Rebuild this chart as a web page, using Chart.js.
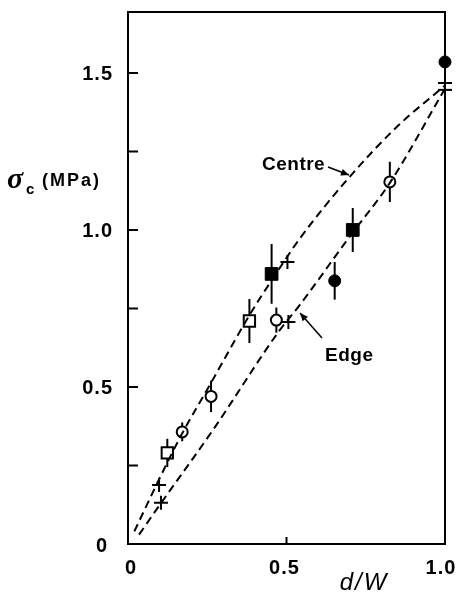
<!DOCTYPE html>
<html><head><meta charset="utf-8">
<script src="https://cdn.jsdelivr.net/npm/chart.js@4.4.0/dist/chart.umd.min.js"></script>
<style>html,body{margin:0;padding:0;background:#fff}#wrap{width:457px;height:592px;position:relative}</style>
</head><body><div id="wrap"><canvas id="c" width="457" height="592"></canvas></div>
<script>
// ---- data ----
const openCircleX = [0.171, 0.262, 0.468, 0.826];
const openCircleY = [0.357, 0.47, 0.713, 1.153];
const openCircleErr = [0.03, 0.05, 0.04, 0.064];
const filledCircleX = [0.652, 1.0];
const filledCircleY = [0.838, 1.535];
const filledCircleErr = [0.06, 0];
const openSquareX = [0.124, 0.383];
const openSquareY = [0.29, 0.71];
const openSquareErr = [0.045, 0.07];
const filledSquareX = [0.453, 0.709];
const filledSquareY = [0.86, 1.0];
const filledSquareErr = [0.095, 0.07];
const plusX = [0.098, 0.104, 0.503, 0.506];
const plusY = [0.188, 0.131, 0.898, 0.707];
const limitX = [1.0, 1.0];
const limitY = [1.468, 1.446];
const centreX = [0.02, 0.10, 0.17, 0.26, 0.39, 0.46, 0.54, 0.70, 0.85, 1.0];
const centreY = [0.04, 0.21, 0.35, 0.51, 0.74, 0.85, 0.97, 1.17, 1.33, 1.46];
const edgeX = [0.035, 0.104, 0.266, 0.478, 0.541, 0.70, 0.826, 1.0];
const edgeY = [0.03, 0.13, 0.36, 0.68, 0.76, 0.98, 1.15, 1.45];
const xTicks = [0, 0.5, 1.0];
const xTickLabels = ['0', '0.5', '1.0'];
const xInnerTicks = [0.5];
const yTicks = [0, 0.5, 1.0, 1.5];
const yTickLabels = ['0', '0.5', '1.0', '1.5'];
const yInnerTicks = [0.25, 0.5, 0.75, 1.0, 1.25, 1.5];
const curveLabels = ['Centre', 'Edge'];
const xTitle = 'd/W';
const yTitleSymbol = 'σ';
const yTitleSub = 'c';
const yTitleUnit = '(MPa)';

const pts = (xs, ys) => xs.map((x, i) => ({x: x, y: ys[i]}));
const SANS = '"Liberation Sans"';

const errorBars = {
  id: 'errorBars',
  beforeDatasetsDraw(chart) {
    const ctx = chart.ctx, xs = chart.scales.x, ys = chart.scales.y;
    ctx.save();
    ctx.strokeStyle = '#000'; ctx.lineWidth = 2;
    chart.data.datasets.forEach(ds => {
      if (!ds.err) return;
      ds.data.forEach((p, i) => {
        const e = ds.err[i]; if (!e) return;
        const px = xs.getPixelForValue(p.x);
        ctx.beginPath();
        ctx.moveTo(px, ys.getPixelForValue(p.y - e));
        ctx.lineTo(px, ys.getPixelForValue(p.y + e));
        ctx.stroke();
      });
    });
    ctx.restore();
  }
};

const frame = {
  id: 'frame',
  afterDraw(chart) {
    const ctx = chart.ctx, a = chart.chartArea, xs = chart.scales.x, ys = chart.scales.y;
    ctx.save();
    ctx.strokeStyle = '#000'; ctx.lineWidth = 2;
    ctx.strokeRect(a.left, a.top, a.right - a.left, a.bottom - a.top);
    ctx.beginPath();
    yInnerTicks.forEach(v => { const py = ys.getPixelForValue(v); ctx.moveTo(a.left, py); ctx.lineTo(a.left + 10, py); });
    xInnerTicks.forEach(v => { const px = xs.getPixelForValue(v); ctx.moveTo(px, a.bottom); ctx.lineTo(px, a.bottom - 7); });
    ctx.stroke();

    ctx.fillStyle = '#000';
    // tick labels
    ctx.font = 'bold 20px ' + SANS;
    ctx.letterSpacing = '1px';
    ctx.textBaseline = 'middle';
    ctx.textAlign = 'right';
    yTicks.forEach((v, i) => ctx.fillText(yTickLabels[i], a.left - (v === 0 ? 20 : 15), ys.getPixelForValue(v) + 2));
    ctx.textAlign = 'center';
    xTicks.forEach((v, i) => {
      const off = i === 0 ? 3 : (i === xTicks.length - 1 ? -4 : -2);
      ctx.fillText(xTickLabels[i], xs.getPixelForValue(v) + off, a.bottom + 24);
    });

    // curve labels
    ctx.font = 'bold 19px ' + SANS;
    ctx.letterSpacing = '0.5px';
    ctx.textBaseline = 'alphabetic'; ctx.textAlign = 'left';
    ctx.fillText(curveLabels[0], 262, 170);
    ctx.fillText(curveLabels[1], 325, 361);
    const arrow = (x1, y1, x2, y2) => {
      ctx.lineWidth = 1.5;
      ctx.beginPath(); ctx.moveTo(x1, y1); ctx.lineTo(x2, y2); ctx.stroke();
      const ang = Math.atan2(y2 - y1, x2 - x1), L = 8, W = 3.5;
      ctx.beginPath();
      ctx.moveTo(x2, y2);
      ctx.lineTo(x2 - L * Math.cos(ang) + W * Math.sin(ang), y2 - L * Math.sin(ang) - W * Math.cos(ang));
      ctx.lineTo(x2 - L * Math.cos(ang) - W * Math.sin(ang), y2 - L * Math.sin(ang) + W * Math.cos(ang));
      ctx.closePath(); ctx.fill();
    };
    arrow(328, 167, 349, 175);
    arrow(322, 338, 300, 313);

    // y title
    ctx.letterSpacing = '0px';
    ctx.font = 'italic bold 30px "Liberation Serif"';
    ctx.fillText(yTitleSymbol, 7, 188);
    ctx.font = 'bold 15px ' + SANS;
    ctx.fillText(yTitleSub, 26, 194);
    ctx.font = 'bold 18px ' + SANS;
    ctx.letterSpacing = '2px';
    ctx.fillText(yTitleUnit, 42, 186);
    // x title
    ctx.font = 'italic 24px ' + SANS;
    ctx.letterSpacing = '2px';
    ctx.textAlign = 'center';
    ctx.fillText(xTitle, 364, 590);
    ctx.restore();
  }
};

new Chart(document.getElementById('c'), {
  type: 'scatter',
  data: {
    datasets: [
      {label: 'Centre', data: pts(centreX, centreY), showLine: true, borderColor: '#000', borderWidth: 2, borderDash: [8, 5], pointRadius: 0, cubicInterpolationMode: 'monotone', clip: false},
      {label: 'Edge', data: pts(edgeX, edgeY), showLine: true, borderColor: '#000', borderWidth: 2, borderDash: [8, 5], pointRadius: 0, cubicInterpolationMode: 'monotone', clip: false},
      {label: 'open circle', data: pts(openCircleX, openCircleY), err: openCircleErr, pointStyle: 'circle', pointRadius: 5.5, borderWidth: 2, borderColor: '#000', backgroundColor: '#fff', clip: false},
      {label: 'filled circle', data: pts(filledCircleX, filledCircleY), err: filledCircleErr, pointStyle: 'circle', pointRadius: 6, borderWidth: 1, borderColor: '#000', backgroundColor: '#000', clip: false},
      {label: 'open square', data: pts(openSquareX, openSquareY), err: openSquareErr, pointStyle: 'rect', pointRadius: 8, borderWidth: 2, borderColor: '#000', backgroundColor: '#fff', clip: false},
      {label: 'filled square', data: pts(filledSquareX, filledSquareY), err: filledSquareErr, pointStyle: 'rect', pointRadius: 9, borderWidth: 1, borderColor: '#000', backgroundColor: '#000', clip: false},
      {label: 'plus', data: pts(plusX, plusY), pointStyle: 'cross', pointRadius: 7, borderWidth: 2, borderColor: '#000', clip: false},
      {label: 'limit', data: pts(limitX, limitY), pointStyle: 'line', pointRadius: 7, borderWidth: 2, borderColor: '#000', clip: false}
    ]
  },
  options: {
    responsive: false, animation: false, events: [],
    layout: {padding: {left: 0, right: 12, top: 12, bottom: 0}},
    plugins: {legend: {display: false}, tooltip: {enabled: false}},
    scales: {
      x: {
        type: 'linear', min: 0, max: 1.0, position: 'bottom',
        grid: {display: false, drawTicks: false}, border: {display: false},
        afterBuildTicks: s => { s.ticks = xTicks.map(v => ({value: v})); },
        afterFit: s => { s.height = 48; s.paddingLeft = 0; s.paddingRight = 0; },
        ticks: {display: false}
      },
      y: {
        type: 'linear', min: 0, max: 1.694,
        grid: {display: false, drawTicks: false}, border: {display: false},
        afterBuildTicks: s => { s.ticks = yTicks.map(v => ({value: v})); },
        afterFit: s => { s.width = 128; s.paddingTop = 0; s.paddingBottom = 0; },
        ticks: {display: false}
      }
    }
  },
  plugins: [errorBars, frame]
});
</script></body></html>
